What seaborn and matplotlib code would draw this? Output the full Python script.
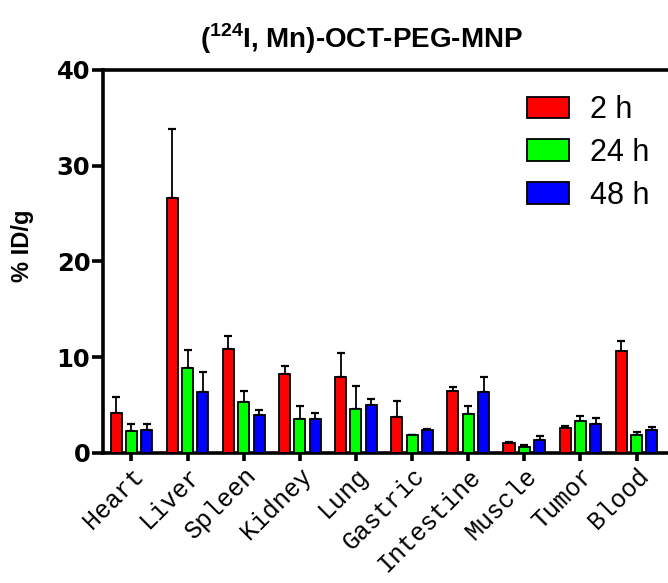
import numpy as np
import pandas as pd
import seaborn as sns
import matplotlib.pyplot as plt

organs = ['Heart', 'Liver', 'Spleen', 'Kidney', 'Lung', 'Gastric',
          'Intestine', 'Muscle', 'Tumor', 'Blood']
times = ['2 h', '24 h', '48 h']

mean_2h = [4.2, 26.6, 10.8, 8.2, 7.9, 3.7, 6.5, 1.0, 2.6, 10.6]
sd_2h = [1.6, 7.2, 1.4, 0.9, 2.5, 1.7, 0.4, 0.1, 0.2, 1.1]
mean_24h = [2.3, 8.8, 5.3, 3.5, 4.6, 1.8, 4.0, 0.6, 3.3, 1.8]
sd_24h = [0.7, 1.9, 1.1, 1.4, 2.4, 0.1, 0.9, 0.2, 0.5, 0.35]
mean_48h = [2.4, 6.3, 3.9, 3.5, 5.0, 2.4, 6.3, 1.3, 3.0, 2.4]
sd_48h = [0.6, 2.1, 0.6, 0.6, 0.6, 0.05, 1.6, 0.4, 0.6, 0.3]

means = [mean_2h, mean_24h, mean_48h]
sds = [sd_2h, sd_24h, sd_48h]

df = pd.DataFrame({
    'organ': organs * 3,
    'time': [t for t in times for _ in organs],
    'value': mean_2h + mean_24h + mean_48h,
})

sns.set_style('ticks')
plt.rcParams['font.family'] = ['Liberation Sans', 'DejaVu Sans']
plt.rcParams['mathtext.fontset'] = 'custom'
plt.rcParams['mathtext.rm'] = 'Liberation Sans:bold'
plt.rcParams['mathtext.bf'] = 'Liberation Sans:bold'
for k in ['text.color', 'axes.labelcolor', 'xtick.color', 'ytick.color', 'axes.edgecolor']:
    plt.rcParams[k] = 'black'

fig = plt.figure(figsize=(6.68, 5.83), dpi=100)
ax = fig.add_axes([0.154, 0.2235, 0.846, 0.6565])

sns.barplot(data=df, x='organ', y='value', hue='time', order=organs, hue_order=times,
            palette=['#ff0000', '#00ff00', '#0000ff'], saturation=1, edgecolor='black',
            linewidth=1.3, width=0.82, gap=0.28, errorbar=None, ax=ax, zorder=3)

# upper-only SD bars on top of the bars
for cont, sd in zip(ax.containers, sds):
    xs = [p.get_x() + p.get_width() / 2 for p in cont]
    hs = [p.get_height() for p in cont]
    ax.errorbar(xs, hs, yerr=[np.zeros(len(sd)), sd], fmt='none', ecolor='black',
                elinewidth=1.3, capsize=2.6, capthick=1.6, zorder=2)

ax.set_ylim(0, 40)
ax.set_xlim(-0.51, 9.56)
ax.set_yticks([0, 10, 20, 30, 40])
ax.set_xlabel('')
ax.set_ylabel('% ID/g', fontsize=17, fontweight='bold')
ax.yaxis.set_label_coords(-0.122, 0.54)
ax.set_title(r'($^{124}$I, Mn)-OCT-PEG-MNP', fontsize=20, fontweight='bold',
             x=0.458, pad=16)

for side in ['left', 'bottom', 'top']:
    ax.spines[side].set_linewidth(2.6)
ax.spines['right'].set_visible(False)

ax.tick_params(axis='y', length=8, width=2.6, pad=1)
ax.tick_params(axis='x', length=6, width=2.6, pad=2)
ax.set_yticklabels([str(v) for v in [0, 10, 20, 30, 40]], family='DejaVu Sans',
                   fontweight='bold', fontsize=17.5)
ax.set_xticks(range(len(organs)))
ax.set_xticklabels(organs, rotation=45, ha='right', rotation_mode='anchor',
                   family='Liberation Mono', fontsize=18)

handles, labels = ax.get_legend_handles_labels()
ax.legend(handles, labels, loc='upper left', bbox_to_anchor=(0.723, 0.974),
          frameon=False, fontsize=22, handlelength=1.37, handleheight=0.72,
          labelspacing=0.42, handletextpad=0.7, borderpad=0)

fig.savefig('out.png', dpi=100)
